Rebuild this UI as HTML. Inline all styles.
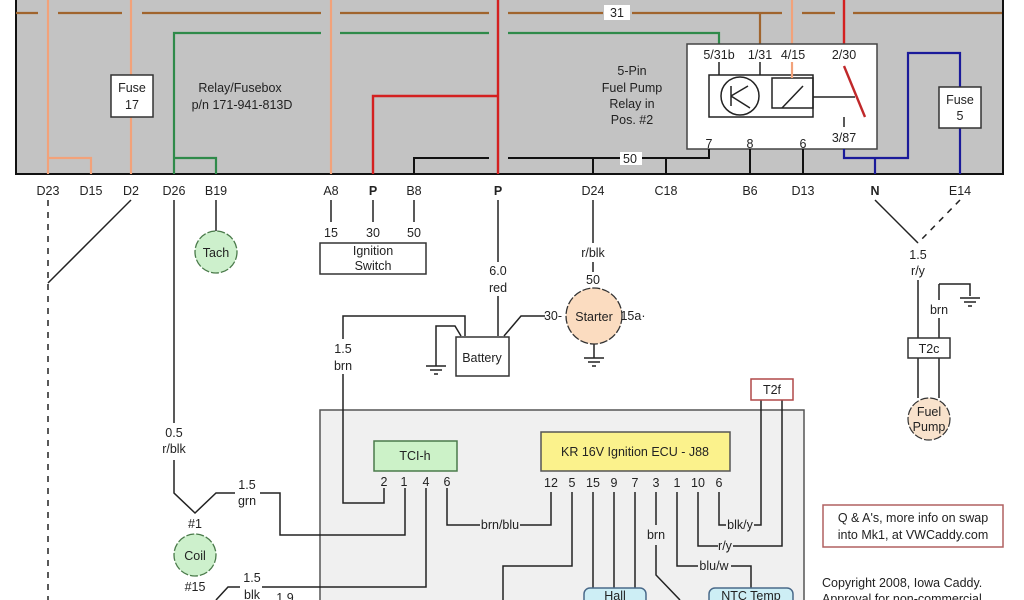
<!DOCTYPE html>
<html><head><meta charset="utf-8"><style>
html,body{margin:0;padding:0;background:#fff;}
svg{display:block;font-family:"Liberation Sans",sans-serif;}
text{font-size:12.5px;fill:#222;text-anchor:middle;}
</style></head><body>
<svg width="1024" height="600" viewBox="0 0 1024 600" xmlns="http://www.w3.org/2000/svg">
<rect x="16" y="-5" width="987" height="179" fill="#c3c3c3" stroke="#111" stroke-width="2"/>
<g stroke="#a0642d" stroke-width="2.2" fill="none">
<path d="M16 13H38M58 13H122M142 13H321M340 13H489M508 13H603M632 13H782M802 13H835M853 13H1002"/>
<path d="M760 13V44"/>
</g>
<rect x="604" y="5" width="26" height="15" fill="#fff"/><text x="617" y="17">31</text>
<g stroke="#f2a27a" stroke-width="2.2" fill="none">
<path d="M48 0V174M48 158H91V174M131 0V174M331 0V174M792 0V75"/>
</g>
<g stroke="#2f8a4a" stroke-width="2.2" fill="none">
<path d="M174 174V33H321M340 33H489M508 33H719V44M174 158H216V174"/>
</g>
<g stroke="#d42020" stroke-width="2.4" fill="none">
<path d="M498 0V174M373 174V96H498M844 0V70"/>
</g>
<rect x="111" y="75" width="42" height="42" fill="#fff" stroke="#333" stroke-width="1.5"/>
<text x="132" y="92">Fuse</text><text x="132" y="109">17</text>
<text x="240" y="92">Relay/Fusebox</text><text x="242" y="109">p/n 171-941-813D</text>
<text x="632" y="75">5-Pin</text><text x="632" y="92">Fuel Pump</text><text x="632" y="108">Relay in</text><text x="632" y="124">Pos. #2</text>
<rect x="687" y="44" width="190" height="105" fill="#fff" stroke="#444" stroke-width="1.5"/>
<text x="719" y="59">5/31b</text><text x="760" y="59">1/31</text><text x="793" y="59">4/15</text><text x="844" y="59">2/30</text>
<g stroke="#222" stroke-width="1.5" fill="none">
<path d="M719 62V75M760 62V75"/>
<rect x="709" y="75" width="104" height="42"/>
<circle cx="740" cy="96" r="19"/>
<path d="M731 86V106M731 96L748 86M731 96L750 108"/>
<rect x="772" y="78" width="41" height="30"/>
<path d="M782 108L803 86M813 97H855M844 117V127"/>
</g>
<path d="M792 62V78" stroke="#f2a27a" stroke-width="2.2"/>
<path d="M844 66L865 117" stroke="#c0282a" stroke-width="2.4"/>
<text x="844" y="142">3/87</text>
<g stroke="#111" stroke-width="2" fill="none">
<path d="M414 174V158H489M508 158H709V149M593 158V174M666 158V174M750 149V174M803 149V174"/>
</g>
<rect x="620" y="152" width="22" height="13" fill="#fff"/><text x="630" y="163">50</text>
<text x="709" y="148">7</text><text x="750" y="148">8</text><text x="803" y="148">6</text>
<g stroke="#1a1a9a" stroke-width="2.2" fill="none">
<path d="M844 149V158H908V53H960V174M875 158V174"/>
</g>
<rect x="939" y="87" width="42" height="41" fill="#fff" stroke="#333" stroke-width="1.5"/>
<text x="960" y="104">Fuse</text><text x="960" y="120">5</text>
<text x="48" y="195">D23</text><text x="91" y="195">D15</text><text x="131" y="195">D2</text><text x="174" y="195">D26</text><text x="216" y="195">B19</text>
<text x="331" y="195">A8</text><text x="373" y="195" font-weight="bold">P</text><text x="414" y="195">B8</text><text x="498" y="195" font-weight="bold">P</text>
<text x="593" y="195">D24</text><text x="666" y="195">C18</text><text x="750" y="195">B6</text><text x="803" y="195">D13</text><text x="875" y="195" font-weight="bold">N</text><text x="960" y="195">E14</text>
<rect x="320" y="410" width="484" height="200" fill="#f0f0f0" stroke="#555" stroke-width="1.5"/>
<g stroke="#222" stroke-width="1.5" fill="none">
<path d="M48 200V600" stroke-dasharray="6,6"/>
<path d="M131 200L48 283"/>
<path d="M174 200V423M174 460V493L195 513L216 493H235M260 493H280V535H405V488"/>
<path d="M216 200V231"/>
<path d="M331 200V222M373 200V222M414 200V222"/>
<path d="M498 200V262M498 296V336"/>
<path d="M504 336L521 316H545"/>
<path d="M593 200V243M593 262V272M593 289V290"/>
<path d="M594 344V358M584 358H604M588 362H600M592 366H596"/>
<path d="M343 339V316H465V336M343 374V503H384V488"/>
<path d="M461 336L455 326H436V366M426 366H446M430 370H442M434 374H438"/>
<path d="M447 488V525H480M520 525H551V492"/>
<path d="M426 488V587H262M240 587H228L216 600"/>
<path d="M572 492V566H503V600"/>
<path d="M593 492V588M614 492V588M635 492V588"/>
<path d="M656 492V525M656 545V575L680 600"/>
<path d="M677 492V566H698M731 566H751V588"/>
<path d="M698 492V546H718M733 546H782V400"/>
<path d="M719 492V525H726M754 525H761V400"/>
<path d="M875 200L918 243"/>
<path d="M960 200L918 243" stroke-dasharray="6,6"/>
<path d="M918 280V398M939 284V300M939 318V398M939 284H970V296M960 298H980M964 302H976M968 306H972"/>
</g>
<circle cx="216" cy="252" r="21" fill="#cdf0cc" stroke="#4a7a4a" stroke-width="1.3" stroke-dasharray="8,2"/>
<text x="216" y="257" font-size="13">Tach</text>
<rect x="320" y="243" width="106" height="31" fill="#fff" stroke="#333" stroke-width="1.5"/>
<text x="331" y="237">15</text><text x="373" y="237">30</text><text x="414" y="237">50</text>
<text x="373" y="255">Ignition</text><text x="373" y="270">Switch</text>
<text x="498" y="275">6.0</text><text x="498" y="292">red</text>
<rect x="456" y="337" width="53" height="39" fill="#fff" stroke="#333" stroke-width="1.5"/>
<text x="482" y="362">Battery</text>
<text x="343" y="353">1.5</text><text x="343" y="370">brn</text>
<text x="553" y="320">30-</text>
<circle cx="594" cy="316" r="28" fill="#fbdcc0" stroke="#333" stroke-width="1.3" stroke-dasharray="8,2"/>
<text x="594" y="321" font-size="13">Starter</text>
<text x="633" y="320">15a·</text>
<text x="593" y="257">r/blk</text><text x="593" y="284">50</text>
<text x="174" y="437">0.5</text><text x="174" y="453">r/blk</text>
<text x="247" y="489">1.5</text><text x="247" y="505">grn</text>
<text x="195" y="528">#1</text>
<circle cx="195" cy="555" r="21" fill="#cdf0cc" stroke="#4a7a4a" stroke-width="1.3" stroke-dasharray="8,2"/>
<text x="195" y="560" font-size="13">Coil</text>
<text x="195" y="591">#15</text>
<text x="252" y="582">1.5</text><text x="252" y="599">blk</text><text x="285" y="602">1.9</text>
<rect x="374" y="441" width="83" height="30" fill="#ccf2c8" stroke="#4a7a4a" stroke-width="1.5"/>
<text x="415" y="460">TCI-h</text>
<text x="384" y="486">2</text><text x="404" y="486">1</text><text x="426" y="486">4</text><text x="447" y="486">6</text>
<text x="500" y="529">brn/blu</text>
<rect x="541" y="432" width="189" height="39" fill="#fbf28c" stroke="#555" stroke-width="1.5"/>
<text x="635" y="456" font-size="13">KR 16V Ignition ECU - J88</text>
<text x="551" y="487">12</text><text x="572" y="487">5</text><text x="593" y="487">15</text><text x="614" y="487">9</text><text x="635" y="487">7</text><text x="656" y="487">3</text><text x="677" y="487">1</text><text x="698" y="487">10</text><text x="719" y="487">6</text>
<text x="656" y="539">brn</text>
<text x="740" y="529">blk/y</text><text x="725" y="550">r/y</text><text x="714" y="570">blu/w</text>
<rect x="751" y="379" width="42" height="21" fill="#fff" stroke="#b04848" stroke-width="1.5"/>
<text x="772" y="394">T2f</text>
<rect x="584" y="588" width="62" height="30" rx="6" fill="#cdeef5" stroke="#4a6a8a" stroke-width="1.5"/>
<text x="615" y="600">Hall</text>
<rect x="709" y="588" width="84" height="30" rx="6" fill="#cdeef5" stroke="#4a6a8a" stroke-width="1.5"/>
<text x="751" y="600">NTC Temp</text>
<text x="918" y="259">1.5</text><text x="918" y="275">r/y</text>
<text x="939" y="314">brn</text>
<rect x="908" y="338" width="42" height="20" fill="#fff" stroke="#333" stroke-width="1.5"/>
<text x="929" y="353">T2c</text>
<circle cx="929" cy="419" r="21" fill="#f8e2cc" stroke="#333" stroke-width="1.2" stroke-dasharray="8,2"/>
<text x="929" y="416" font-size="11">Fuel</text><text x="929" y="431" font-size="11">Pump</text>
<rect x="823" y="505" width="180" height="42" fill="#fff" stroke="#b06060" stroke-width="1.5"/>
<text x="913" y="522">Q &amp; A's, more info on swap</text>
<text x="913" y="539">into Mk1, at VWCaddy.com</text>
<text x="822" y="587" style="text-anchor:start">Copyright 2008, Iowa Caddy.</text>
<text x="822" y="603" style="text-anchor:start">Approval for non-commercial</text>
</svg>
</body></html>
